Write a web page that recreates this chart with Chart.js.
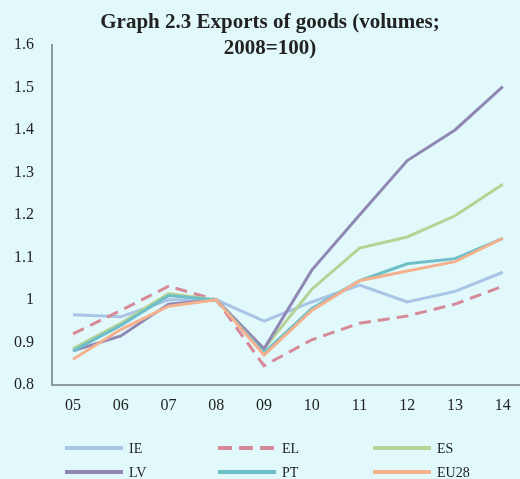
<!DOCTYPE html>
<html>
<head>
<meta charset="utf-8">
<script src="https://cdn.jsdelivr.net/npm/chart.js@4"></script>
<style>
  html, body { margin: 0; padding: 0; background: #e2f9fb; }
  #wrap { width: 520px; height: 479px; }
</style>
</head>
<body>
<div id="wrap"><canvas id="exports"></canvas></div>
<script>
const years = ["05", "06", "07", "08", "09", "10", "11", "12", "13", "14"];
const titleLines = ["Graph 2.3 Exports of goods (volumes;", "2008=100)"];

const ie = [0.965, 0.96, 1.0, 1.0, 0.95, 0.995, 1.035, 0.995, 1.02, 1.065];
const el = [0.92, 0.975, 1.032, 1.0, 0.845, 0.906, 0.945, 0.962, 0.99, 1.032];
const es = [0.885, 0.945, 1.015, 1.0, 0.885, 1.025, 1.122, 1.148, 1.198, 1.272];
const lv = [0.88, 0.915, 0.99, 1.0, 0.885, 1.07, 1.2, 1.328, 1.4, 1.502];
const pt = [0.88, 0.94, 1.01, 1.0, 0.875, 0.98, 1.045, 1.085, 1.097, 1.145];
const eu28 = [0.86, 0.93, 0.985, 1.0, 0.87, 0.975, 1.045, 1.068, 1.09, 1.145];

const bg = "#e2f9fb";
const axisGrey = "#8c9c9e";
const serif = "'Liberation Serif', 'Times New Roman', serif";

// later series are painted over earlier ones (lower order = on top)
function series(label, data, color, order, dash) {
  return {
    label: label,
    data: data,
    order: order,
    borderColor: color,
    backgroundColor: color,
    borderWidth: 3,
    borderDash: dash || [],
    pointRadius: 0,
    tension: 0,
    fill: false,
  };
}

// background + two-line bold heading, which sits partly beside the y axis top
const heading = {
  id: "heading",
  beforeDraw: function (chart) {
    const c = chart.ctx;
    c.save();
    c.fillStyle = bg;
    c.fillRect(0, 0, chart.width, chart.height);
    c.restore();
  },
  afterDraw: function (chart) {
    const c = chart.ctx;
    c.save();
    c.font = "bold 21px " + serif;
    c.fillStyle = "#222";
    c.textAlign = "center";
    c.textBaseline = "alphabetic";
    c.fillText(titleLines[0], 270, 28);
    c.fillText(titleLines[1], 270, 54);
    c.restore();
  },
};

// legend laid out as a fixed 3-column grid under the axis
const gridLegend = {
  id: "gridLegend",
  afterDraw: function (chart) {
    const c = chart.ctx;
    const cols = [65, 218, 373];
    const rows = [448, 472];
    const len = 58;
    c.save();
    c.font = "14px " + serif;
    c.textBaseline = "middle";
    c.fillStyle = "#222";
    chart.data.datasets.forEach(function (ds, i) {
      const x = cols[i % 3];
      const y = rows[Math.floor(i / 3)];
      c.beginPath();
      c.strokeStyle = ds.borderColor;
      c.lineWidth = 4;
      c.setLineDash(ds.borderDash.length ? [14, 7] : []);
      c.moveTo(x, y);
      c.lineTo(x + len, y);
      c.stroke();
      c.setLineDash([]);
      c.fillText(ds.label, x + len + 6, y + 1);
    });
    c.restore();
  },
};

new Chart(document.getElementById("exports"), {
  type: "line",
  data: {
    labels: years,
    datasets: [
      series("IE", ie, "#a8c4e6", 6),
      series("EL", el, "#d68a98", 5, [12, 7]),
      series("ES", es, "#b5d395", 4),
      series("LV", lv, "#9088b4", 3),
      series("PT", pt, "#6fbfc8", 2),
      series("EU28", eu28, "#f5b08e", 1),
    ],
  },
  options: {
    responsive: true,
    maintainAspectRatio: false,
    animation: false,
    layout: {
      padding: { left: 0, right: 0, top: 45, bottom: 53 },
    },
    scales: {
      x: {
        // year labels parse to 5..14; the last year runs close to the right edge
        type: "linear",
        min: 4.56,
        max: 14.36,
        grid: { display: false, drawTicks: false },
        border: { display: true, color: axisGrey, width: 2 },
        afterFit: function (scale) {
          scale.paddingRight = 0;
        },
        ticks: {
          stepSize: 1,
          includeBounds: false,
          color: "#222",
          padding: 11,
          font: { family: serif, size: 16 },
          maxRotation: 0,
          callback: function (v) {
            return years[Math.round(v) - 5];
          },
        },
      },
      y: {
        min: 0.8,
        max: 1.6,
        grid: { display: false, drawTicks: false },
        border: { display: true, color: axisGrey, width: 2 },
        afterFit: function (scale) {
          scale.width = 52;
        },
        ticks: {
          stepSize: 0.1,
          color: "#222",
          padding: 18,
          font: { family: serif, size: 16 },
          callback: function (v) {
            return Math.round(v * 10) / 10;
          },
        },
      },
    },
    plugins: {
      legend: { display: false },
      tooltip: { enabled: false },
      title: { display: false },
    },
  },
  plugins: [heading, gridLegend],
});
</script>
</body>
</html>
